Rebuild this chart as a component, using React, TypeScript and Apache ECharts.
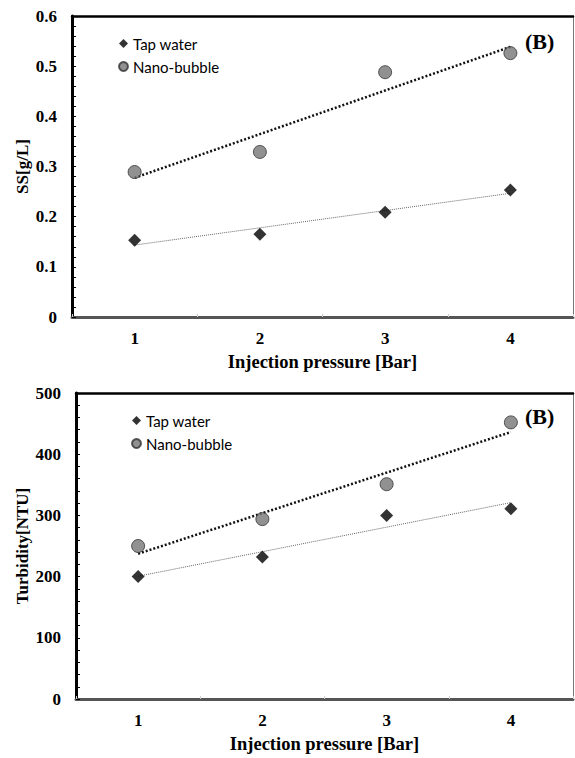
import React, { useEffect, useRef } from "react";
import * as echarts from "echarts";

const pressure = ["1", "2", "3", "4"];
const ssTap = [0.153, 0.165, 0.209, 0.253];
const ssNano = [0.289, 0.329, 0.488, 0.526];
const turbTap = [200, 232, 300, 311];
const turbNano = [250, 294, 351, 452];
const seriesNames = ["Tap water", "Nano-bubble"];
const panelLabel = "(B)";
const xTitle = "Injection pressure [Bar]";
const yTitles = ["SS[g/L]", "Turbidity[NTU]"];

function trend(values: number[]): number[] {
  const n = values.length;
  const xs = values.map((_, i) => i + 1);
  const mx = xs.reduce((a, b) => a + b, 0) / n;
  const my = values.reduce((a, b) => a + b, 0) / n;
  let sxy = 0;
  let sxx = 0;
  for (let i = 0; i < n; i++) {
    sxy += (xs[i] - mx) * (values[i] - my);
    sxx += (xs[i] - mx) * (xs[i] - mx);
  }
  const slope = sxy / sxx;
  return xs.map((x) => +(my + slope * (x - mx)).toFixed(5));
}

const SERIF = "'Liberation Serif', 'Times New Roman', serif";
const SANS = "Lato, 'Noto Sans', sans-serif";

export default function App() {
  const ref = useRef<HTMLDivElement>(null);
  useEffect(() => {
    document.body.style.margin = "0";
    const chart = echarts.init(ref.current!, undefined, { renderer: "svg" });

    const grids = [
      { left: 72, top: 16, width: 501, height: 301 },
      { left: 76, top: 393, width: 497, height: 306 },
    ];
    const ranges = [
      { max: 0.6, interval: 0.1 },
      { max: 500, interval: 100 },
    ];

    const xAxis: any[] = [];
    const yAxis: any[] = [];
    grids.forEach((_, g) => {
      xAxis.push({
        gridIndex: g,
        type: "category",
        data: pressure,
        position: "bottom",
        boundaryGap: true,
        axisLine: { show: true, onZero: false, lineStyle: { color: "#555", width: 3 } },
        axisTick: { show: true, inside: true, length: 3, lineStyle: { color: "#ccc", width: 1 } },
        axisLabel: { fontFamily: SERIF, fontWeight: "bold", fontSize: 17, color: "#000", margin: 13 },
        splitLine: { show: false },
        name: xTitle,
        nameLocation: "middle",
        nameGap: 35,
        nameMoveOverlap: false,
        nameTextStyle: { fontFamily: SERIF, fontWeight: "bold", fontSize: 18.5, color: "#000" },
      });
      xAxis.push({
        gridIndex: g,
        type: "category",
        data: pressure,
        position: "top",
        axisLine: { show: true, onZero: false, lineStyle: { color: "#000", width: 2.5 } },
        axisTick: { show: false },
        axisLabel: { show: false },
        splitLine: { show: false },
      });
      yAxis.push({
        gridIndex: g,
        type: "value",
        min: 0,
        max: ranges[g].max,
        interval: ranges[g].interval,
        position: "left",
        axisLine: { show: true, onZero: false, lineStyle: { color: "#000", width: 3 } },
        axisTick: { show: true, inside: true, length: 4, lineStyle: { color: "#000", width: 1 } },
        minorTick: { show: true, splitNumber: 5, length: 4, lineStyle: { color: "#000", width: 1 } },
        axisLabel: { fontFamily: SERIF, fontWeight: "bold", fontSize: 17, color: "#000", margin: 15 },
        splitLine: { show: false },
        name: yTitles[g],
        nameLocation: "middle",
        nameGap: g === 0 ? 41 : 45,
        nameMoveOverlap: false,
        nameTextStyle: { fontFamily: SERIF, fontWeight: "bold", fontSize: 17, color: "#000" },
      });
      yAxis.push({
        gridIndex: g,
        type: "value",
        min: 0,
        max: ranges[g].max,
        interval: ranges[g].interval,
        position: "right",
        axisLine: { show: true, onZero: false, lineStyle: { color: "#777", width: 1 } },
        axisTick: { show: false },
        axisLabel: { show: false },
        splitLine: { show: false },
      });
    });

    const tapStyle = { color: "#000" };
    const nanoStyle = { color: "#767676", borderColor: "#333", borderWidth: 1 };

    const panels = [
      { tap: ssTap, nano: ssNano },
      { tap: turbTap, nano: turbNano },
    ];
    const series: any[] = [];
    panels.forEach((p, g) => {
      const xi = g * 2;
      const yi = g * 2;
      series.push({
        name: "trend-nano-" + g,
        type: "line",
        xAxisIndex: xi,
        yAxisIndex: yi,
        data: trend(p.nano),
        symbol: "none",
        silent: true,
        lineStyle: { color: "#111", width: 2.5, type: [2, 2] },
        z: 2,
      });
      series.push({
        name: "trend-tap-" + g,
        type: "line",
        xAxisIndex: xi,
        yAxisIndex: yi,
        data: trend(p.tap),
        symbol: "none",
        silent: true,
        lineStyle: { color: "#666", width: 1, type: [1, 1] },
        z: 2,
      });
      series.push({
        name: seriesNames[0],
        type: "scatter",
        xAxisIndex: xi,
        yAxisIndex: yi,
        data: p.tap,
        symbol: "diamond",
        symbolSize: 13,
        itemStyle: tapStyle,
        z: 3,
      });
      series.push({
        name: seriesNames[1],
        type: "scatter",
        xAxisIndex: xi,
        yAxisIndex: yi,
        data: p.nano,
        symbol: "circle",
        symbolSize: 13,
        itemStyle: nanoStyle,
        z: 3,
      });
    });

    const legendBase = {
      orient: "vertical",
      data: seriesNames,
      itemWidth: 9,
      itemHeight: 9,
      itemGap: 8,
      textStyle: { fontFamily: SANS, fontSize: 15, color: "#000" },
      selectedMode: false,
    };

    chart.setOption({
      animation: false,
      backgroundColor: "#fff",
      grid: grids.map((g) => ({ ...g, containLabel: false, show: false })),
      xAxis,
      yAxis,
      series,
      legend: [
        { ...legendBase, left: 113, top: 31 },
        { ...legendBase, left: 126, top: 408 },
      ],
      title: [
        { text: panelLabel, left: 525, top: 30, padding: 0, textStyle: { fontFamily: SERIF, fontWeight: "bold", fontSize: 22, color: "#000" } },
        { text: panelLabel, left: 525, top: 405, padding: 0, textStyle: { fontFamily: SERIF, fontWeight: "bold", fontSize: 22, color: "#000" } },
      ],
    });
    return () => chart.dispose();
  }, []);
  return (
    <div
      ref={ref}
      style={{ position: "absolute", left: 0, top: 0, width: 575, height: 758 }}
    />
  );
}
